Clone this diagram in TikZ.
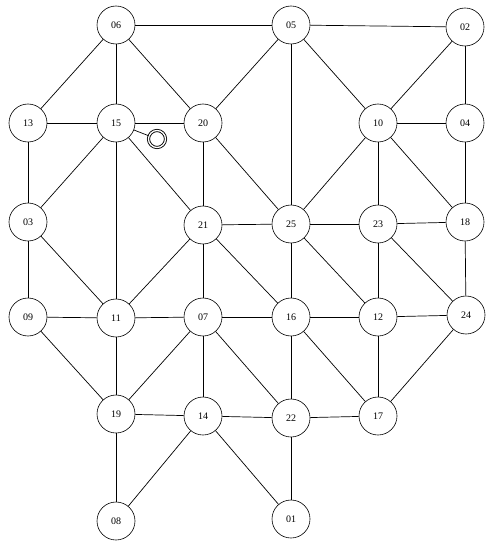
\documentclass[tikz,border=0pt]{standalone}
\usepackage{fontspec}
\setmainfont{Liberation Serif}
\begin{document}
\begin{tikzpicture}[x=1pt,y=-1pt,
  vtx/.style={circle,draw,line width=0.6pt,minimum size=38pt,inner sep=0pt,font=\fontsize{10}{12}\selectfont,fill=white},
  mark2/.style={circle,draw,line width=0.9pt,double,double distance=1.3pt,minimum size=17pt,inner sep=0pt},
  edge/.style={line width=0.7pt}]
\useasboundingbox (0,0) rectangle (495,548);
\foreach \n/\x/\y in {06/116/25,05/291/25,02/465/27,13/28/123,15/116/123,20/203/123,10/378/123,04/465/123,
  03/28/222,21/203/225,25/291/224,23/378/224,18/465/222,09/28/317,11/116/318,07/203/317,16/291/317,12/378/317,24/466/315,
  19/116/414,14/203/416,22/291/418,17/378/416,08/116/521,01/291/519}
  \node[vtx] (n\n) at (\x,\y) {\n};
\node[mark2] (m) at (157,139) {};
\begin{scope}[on background layer/.style={}]
\end{scope}
\foreach \a/\b in {06/05,05/02,06/13,06/15,06/20,05/20,05/25,05/10,02/10,02/04,
  13/15,15/20,13/03,15/03,15/11,15/21,20/21,20/25,10/04,10/25,10/23,10/18,04/18,
  03/09,03/11,21/25,21/11,21/07,21/16,25/23,25/16,25/12,23/18,23/12,23/24,18/24,
  09/11,09/19,11/07,11/19,07/16,07/19,07/14,07/22,16/12,16/22,16/17,12/24,12/17,24/17,
  19/14,19/08,14/22,14/08,14/01,22/17,22/01}
  \draw[edge] (n\a) -- (n\b);
\draw[edge] (n15) -- (m);
\end{tikzpicture}
\end{document}
